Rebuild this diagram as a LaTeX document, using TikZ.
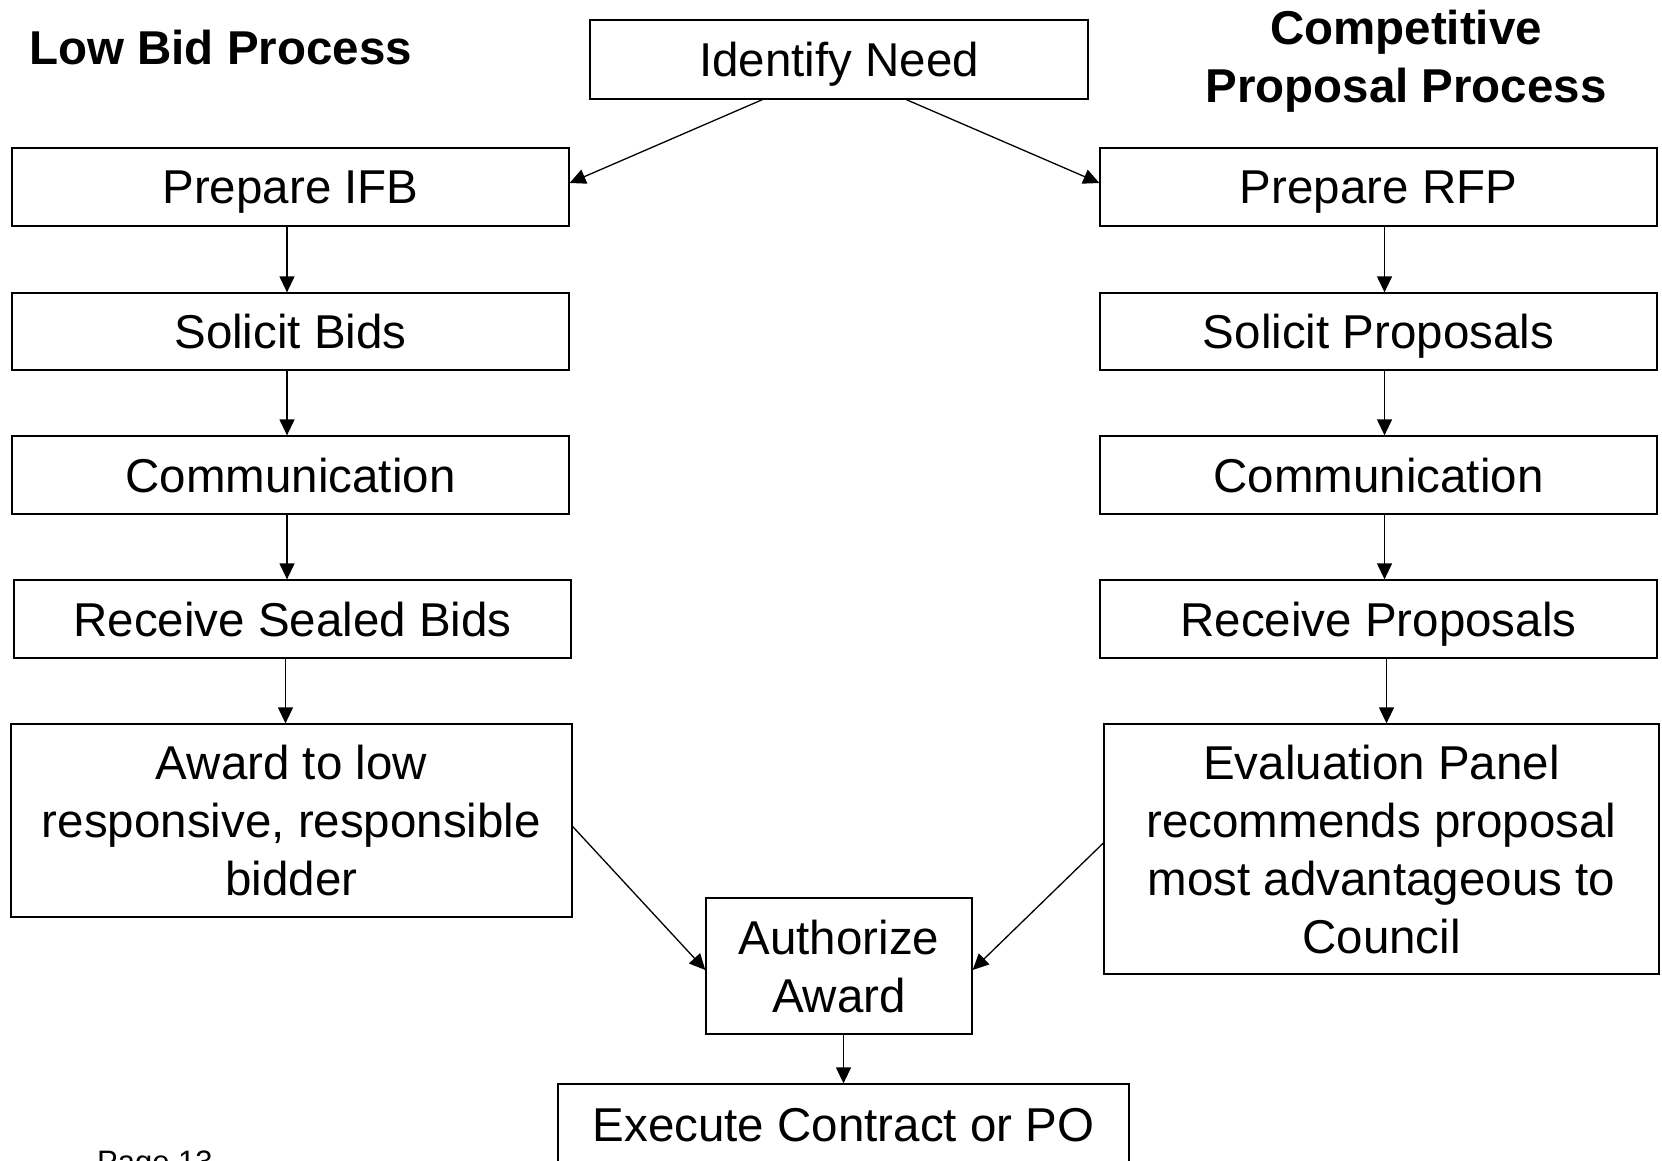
\documentclass[tikz,border=0pt]{standalone}
\usepackage{fontspec}
\setmainfont{Liberation Sans}
\usetikzlibrary{arrows.meta,calc}
\begin{document}
\begin{tikzpicture}[x=1pt,y=-1pt,
  box/.style={draw,line width=1.3pt,inner sep=0pt,align=center,font=\fontsize{47.5}{58}\selectfont,text depth=0pt},
  arr/.style={line width=1.3pt,-{Triangle[length=16pt,width=15pt]}},
  ttl/.style={font=\fontsize{47.5}{58}\selectfont\bfseries,inner sep=0pt,align=center,text depth=0pt}]
\useasboundingbox (0,0) rectangle (1662,1161);
\clip (0,0) rectangle (1662,1161);
\fill[white] (0,0) rectangle (1662,1161);
% titles
\node[ttl,anchor=base west] (lbp) at (29,65) {Low Bid Process};
\node[ttl] (cpp) at (1406,56) {Competitive\\Proposal Process};
\node[font=\fontsize{31}{37}\selectfont,anchor=base west,inner sep=0pt] (pg) at (97,1172) {Page 13};
% boxes
\node[box,minimum width=498pt,minimum height=79pt] (idn) at (839,59.5) {Identify Need};
\node[box,minimum width=557pt,minimum height=78pt] (ifb) at (290.5,187) {Prepare IFB};
\node[box,minimum width=557pt,minimum height=77pt] (sb) at (290.5,331.5) {Solicit Bids};
\node[box,minimum width=557pt,minimum height=78pt] (cl) at (290.5,475) {Communication};
\node[box,minimum width=557pt,minimum height=78pt] (rsb) at (292.5,619) {Receive Sealed Bids};
\node[box,minimum width=561pt,minimum height=193pt] (aw) at (291.5,820.5) {Award to low\\responsive, responsible\\bidder};
\node[box,minimum width=557pt,minimum height=78pt] (rfp) at (1378.5,187) {Prepare RFP};
\node[box,minimum width=557pt,minimum height=77pt] (sp) at (1378.5,331.5) {Solicit Proposals};
\node[box,minimum width=557pt,minimum height=78pt] (cr) at (1378.5,475) {Communication};
\node[box,minimum width=557pt,minimum height=78pt] (rp) at (1378.5,619) {Receive Proposals};
\node[box,minimum width=555pt,minimum height=250pt] (ev) at (1381.5,849) {Evaluation Panel\\recommends proposal\\most advantageous to\\Council};
\node[box,minimum width=266pt,minimum height=136pt] (auth) at (839,966) {Authorize\\Award};
\node[box,minimum width=571pt,minimum height=82pt] (exe) at (843.5,1125) {Execute Contract or PO};
% connectors
\draw[arr] ($(idn.south west)+(173,0)$) -- ([yshift=4pt]ifb.east);
\draw[arr] ($(idn.south west)+(317,0)$) -- ([yshift=4pt]rfp.west);
\draw[arr] ([xshift=-3.5pt]ifb.south) -- ([xshift=-3.5pt]sb.north);
\draw[arr] ([xshift=-3.5pt]sb.south) -- ([xshift=-3.5pt]cl.north);
\draw[arr] ([xshift=-3.5pt]cl.south) -- ([xshift=-3.5pt]cl.south |- rsb.north);
\draw[arr] ([xshift=-7pt]rsb.south) -- ([xshift=-7pt]rsb.south |- aw.north);
\draw[arr] ([xshift=6pt]rfp.south) -- ([xshift=6pt]sp.north);
\draw[arr] ([xshift=6pt]sp.south) -- ([xshift=6pt]cr.north);
\draw[arr] ([xshift=6pt]cr.south) -- ([xshift=6pt]rp.north);
\draw[arr] ([xshift=8pt]rp.south) -- ([xshift=8pt]rp.south |- ev.north);
\draw[arr] ([yshift=-6pt]aw.east) -- ([yshift=-4pt]auth.west);
\draw[arr] ([yshift=6pt]ev.west) -- ([yshift=-4pt]auth.east);
\draw[arr] (auth.south -| exe.north) -- (exe.north);
\end{tikzpicture}
\end{document}
